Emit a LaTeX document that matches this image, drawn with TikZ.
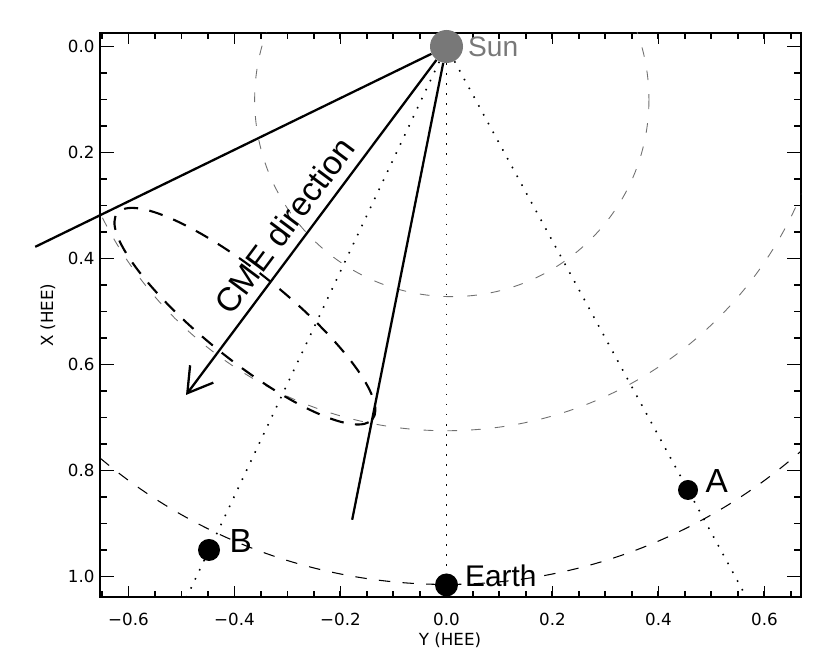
\documentclass[tikz,border=0pt]{standalone}
\usepackage{fontspec}
\setmainfont{Liberation Sans}
\newfontfamily\axisfont{DejaVu Sans}
\usetikzlibrary{arrows.meta, positioning, calc}
\definecolor{sungray} {HTML}{787878}
\definecolor{ringgray}{HTML}{707070}

\begin{document}
\begin{tikzpicture}[x=10.6cm, y=-10.6cm,
    body/.style={circle, fill=black, inner sep=0pt, minimum size=0.44cm},
    tag/.style={inner sep=0pt, font=\fontsize{17}{20}\selectfont},
    ticklbl/.style={inner sep=0pt, font=\axisfont\fontsize{9.5}{11}\selectfont},
    frame/.style={line width=1.1pt},
    orbit/.style={dash pattern=on 6.5pt off 7pt, line width=0.6pt},
    ring/.style={ringgray, dash pattern=on 5.5pt off 8pt, line width=0.5pt},
    sight/.style={dash pattern=on 0.9pt off 4.8pt, line width=0.9pt},
    edge/.style={line width=1.3pt},
    cone/.style={dash pattern=on 8pt off 6.5pt, line width=1.2pt}
  ]
    \useasboundingbox (-0.8425,-0.0877) rectangle (0.7236,1.1670);

    % plot frame and ticks
    \draw[frame] (-0.654,-0.0255) rectangle (0.669,1.0387);
    \foreach \v in {-0.65,-0.6,...,0.66} {
      \draw[frame] (\v,1.0387) -- ++(0,0.113cm);
      \draw[frame] (\v,-0.0255) -- ++(0,-0.113cm);
    }
    \foreach \v/\t in {-0.6/−0.6, -0.4/−0.4, -0.2/−0.2, 0/0.0, 0.2/0.2, 0.4/0.4, 0.6/0.6} {
      \draw[frame] (\v,1.0387) -- ++(0,0.225cm);
      \draw[frame] (\v,-0.0255) -- ++(0,-0.225cm);
      \node[ticklbl, anchor=north, yshift=-0.31cm] at (\v,1.0387) {\t};
    }
    \foreach \v in {0,0.05,...,1.01} {
      \draw[frame] (-0.654,\v) -- ++(0.14cm,0);
      \draw[frame] (0.669,\v) -- ++(-0.14cm,0);
    }
    \foreach \v/\t in {0/0.0, 0.2/0.2, 0.4/0.4, 0.6/0.6, 0.8/0.8, 1/1.0} {
      \draw[frame] (-0.654,\v) -- ++(0.28cm,0);
      \draw[frame] (0.669,\v) -- ++(-0.28cm,0);
      \node[ticklbl, anchor=east, xshift=-0.1cm] at (-0.654,\v) {\t};
    }
    \node[ticklbl] (ytitle) at (0.0066,1.1198) {Y (HEE)};
    \node[ticklbl, rotate=90] (xtitle) at (-0.752,0.507) {X (HEE)};

    % bodies
    \node[body, fill=sungray, minimum size=0.66cm] (sun) at (0,0) {};
    \node[body, minimum size=0.46cm] (earth) at (0,1.016) {};
    \node[body, minimum size=0.40cm] (staA) at (0.4557,0.8368) {};
    \node[body] (staB) at (-0.4481,0.950) {};

    % rings and lines of sight
    \begin{scope}
      \clip (-0.654,-0.0255) rectangle (0.669,1.0387);
      \draw[ring] (0.01,0.1) circle (0.372);
      \draw[ring] (sun.center) circle (0.725);
      \draw[orbit] (sun.center) circle (1.015);
      \draw[sight] (sun) -- ($(sun)!1.1!(earth)$);
      \draw[sight] (sun) -- ($(sun)!1.4!(staA)$);
      \draw[sight] (sun) -- ($(sun)!1.2!(staB)$);
    \end{scope}

    % CME cone
    \coordinate (coneL) at (-0.776,0.378);
    \coordinate (coneR) at (-0.178,0.893);
    \coordinate (tip) at (-0.4915,0.6575);
    \coordinate (ctr) at ($(sun)!0.774!(tip)$);
    \draw[edge] (sun) -- (coneL);
    \draw[edge] (sun) -- (coneR);
    \draw[cone, rotate around={-38.9:(ctr)}] (ctr) ellipse [x radius=3.28cm, y radius=0.86cm];
    \draw[edge, -{Straight Barb[length=4.8mm, width=5.8mm]}] (sun) -- (tip);
    \node[inner sep=0pt, inner ysep=0.2cm, anchor=south, rotate=53.3,
          font=\fontsize{19}{22}\selectfont] (cmetxt) at ($(sun)!0.552!(tip)$) {CME direction};

    % labels
    \node[tag, text=sungray, font=\fontsize{16}{19}\selectfont, right=0.09cm of sun] {Sun};
    \node[tag, right=0.13cm of earth, yshift=0.18cm] {Earth};
    \node[tag, font=\fontsize{19}{22}\selectfont, right=0.14cm of staA, yshift=0.17cm] {A};
    \node[tag, font=\fontsize{19}{22}\selectfont, right=0.18cm of staB, yshift=0.18cm] {B};
  \end{tikzpicture}
\end{document}
